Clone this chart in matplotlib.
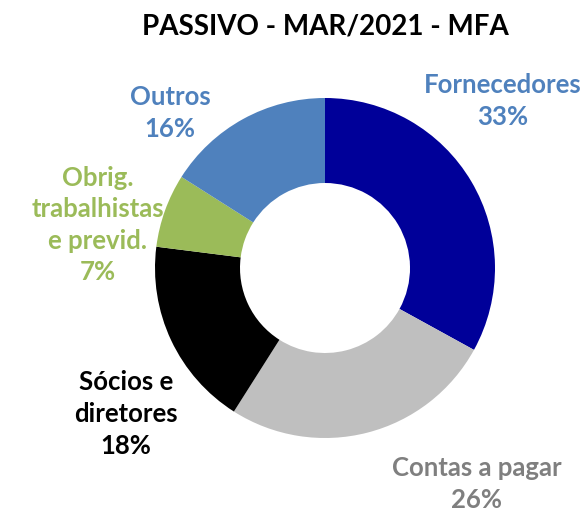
import matplotlib.pyplot as plt

categories = ['Fornecedores', 'Contas a pagar', 'Sócios e\ndiretores',
              'Obrig.\ntrabalhistas\ne previd.', 'Outros']
values = [33, 26, 18, 7, 16]
slice_colors = ['#000099', '#BFBFBF', '#000000', '#9BBB59', '#4F81BD']
label_colors = ['#4F81BD', '#7F7F7F', '#000000', '#9BBB59', '#4F81BD']
# label centres (pixels, from top-left)
label_pos = [(503, 101), (477, 484), (126, 414), (98, 225), (170, 113)]

W, H = 588, 511
fig = plt.figure(figsize=(W / 100, H / 100), dpi=100)
ax = fig.add_axes([0, 0, 1, 1])

ax.pie(values, colors=slice_colors, startangle=90, counterclock=False,
       center=(325, H - 268), radius=170,
       wedgeprops=dict(width=85, edgecolor='none'))
ax.set_xlim(0, W)
ax.set_ylim(0, H)
ax.set_aspect('equal')
ax.axis('off')

font = ['Lato', 'DejaVu Sans']
for cat, val, col, (x, y) in zip(categories, values, label_colors, label_pos):
    ax.text(x, H - y, f'{cat}\n{val}%', ha='center', va='center', color=col,
            fontsize=18.5, fontweight='bold', family=font, linespacing=1.38)

ax.text(325, H - 26, 'PASSIVO - MAR/2021 - MFA', ha='center', va='center',
        fontsize=20, fontweight='bold', family=font)

fig.savefig('out.png', dpi=100)
plt.close()
